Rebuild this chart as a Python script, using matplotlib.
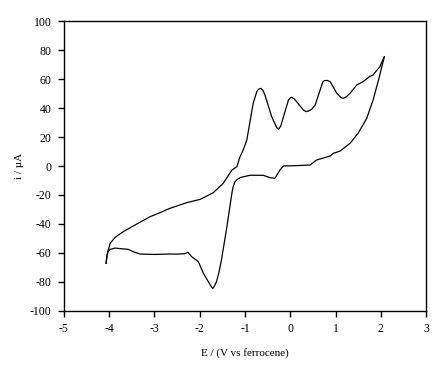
import matplotlib
matplotlib.use('Agg')
import matplotlib.pyplot as plt

# cyclic voltammogram (E in V vs ferrocene, i in uA)
# cathodic sweep: from the positive limit back down to -4.07 V
E_back = [2.08, 1.95, 1.83, 1.69, 1.50, 1.32, 1.10, 0.95, 0.88, 0.58, 0.44, 0.10,
          -0.15, -0.23, -0.34, -0.45, -0.60, -0.89, -0.96, -1.11, -1.18, -1.22, -1.26,
          -1.29, -1.40, -1.52, -1.58, -1.63, -1.68, -1.71, -1.75, -1.81, -1.92, -2.03,
          -2.18, -2.26, -2.33, -2.50, -2.66, -3.00, -3.32, -3.47, -3.58, -3.75, -3.87,
          -3.98, -4.02, -4.05, -4.07]
i_back = [75.4, 59.3, 45.5, 32.9, 22.6, 15.6, 10.3, 8.7, 6.9, 4.1, 0.7, 0.2,
          0.0, -2.8, -8.5, -8.0, -6.4, -6.4, -6.9, -8.0, -9.5, -10.8, -14.0,
          -18.8, -41.9, -64.8, -74.0, -79.8, -83.0, -84.5, -83.0, -79.8, -74.0, -66.0,
          -62.5, -59.5, -60.5, -60.8, -60.7, -61.0, -60.7, -59.1, -57.5, -57.0, -56.6,
          -57.5, -58.8, -61.5, -67.1]

# anodic sweep: from -4.07 V up to the positive limit
E_fwd = [-4.07, -4.04, -3.98, -3.87, -3.69, -3.39, -3.10, -2.88, -2.66, -2.29,
         -1.99, -1.70, -1.48, -1.29, -1.18, -1.11, -1.04, -0.96, -0.82, -0.74,
         -0.70, -0.65, -0.60, -0.56, -0.41, -0.30, -0.26, -0.21, -0.15, -0.04, 0.00,
         0.03, 0.08, 0.14, 0.29, 0.35, 0.40, 0.47, 0.55, 0.66, 0.72, 0.75, 0.82,
         0.88, 1.03, 1.12, 1.17, 1.23, 1.32, 1.47, 1.61, 1.75, 1.83, 1.98, 2.06, 2.08]
i_fwd = [-67.1, -60.2, -53.3, -49.2, -45.3, -40.0, -35.0, -32.2, -29.2, -25.3,
         -23.0, -18.4, -11.9, -2.8, -0.5, 6.4, 11.0, 17.9, 43.2, 51.3,
         53.0, 53.6, 52.0, 49.0, 34.0, 26.5, 25.3, 27.5, 34.0, 45.5, 47.0,
         47.4, 46.5, 44.4, 38.6, 37.5, 37.9, 39.0, 42.0, 52.4, 58.0, 58.9, 59.0,
         58.2, 50.1, 47.2, 46.7, 47.5, 50.1, 55.9, 58.2, 61.6, 62.8, 68.5, 74.3, 75.4]

x_ticks = [-5, -4, -3, -2, -1, 0, 1, 2, 3]
y_ticks = [-100, -80, -60, -40, -20, 0, 20, 40, 60, 80, 100]

plt.rcParams['font.family'] = ['Liberation Serif', 'DejaVu Serif']
plt.rcParams['font.size'] = 8
plt.rcParams['axes.unicode_minus'] = False

fig = plt.figure(figsize=(4.44, 3.70), dpi=100)
ax = fig.add_axes([0.1441, 0.1595, 0.8154, 0.7837])

ax.plot(E_back, i_back, color='black', linewidth=0.9)
ax.plot(E_fwd, i_fwd, color='black', linewidth=0.9)

ax.set_xlim(-5, 3)
ax.set_ylim(-100, 100)
ax.set_xticks(x_ticks)
ax.set_yticks(y_ticks)
ax.tick_params(direction='out', length=4, width=1, pad=5, labelsize=8.5)
for s in ax.spines.values():
    s.set_linewidth(1)

ax.set_xlabel('E / (V vs ferrocene)', labelpad=9)
ax.set_ylabel('i / µA', labelpad=4)

fig.savefig('out.png', dpi=100)
